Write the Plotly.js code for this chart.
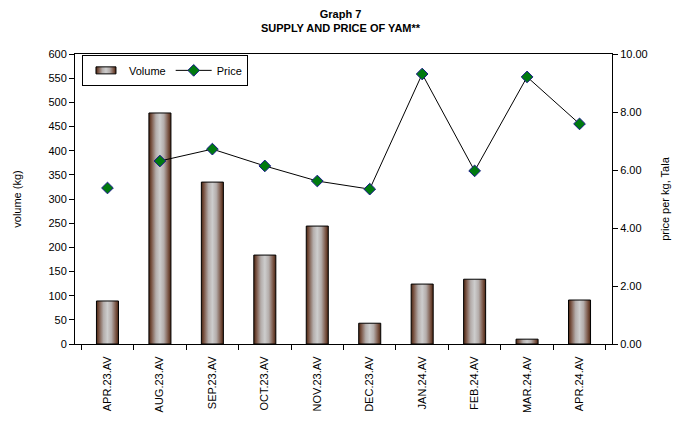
<!DOCTYPE html>
<html>
<head>
<meta charset="utf-8">
<script src="https://cdn.plot.ly/plotly-3.0.1.min.js"></script>
<style>
html,body{margin:0;padding:0;background:#fff;}
#chart{width:681px;height:425px;}
</style>
</head>
<body>
<div id="chart"></div>
<script>
const categories = ["APR.23.AV","AUG.23.AV","SEP.23.AV","OCT.23.AV","NOV.23.AV","DEC.23.AV","JAN.24.AV","FEB.24.AV","MAR.24.AV","APR.24.AV"];
const volume = [89, 478, 335, 184, 244, 43, 124, 134, 10, 91];
const price = [5.38, 6.31, 6.72, 6.14, 5.62, 5.34, 9.31, 5.97, 9.21, 7.59];
const volumeTicks = [0,50,100,150,200,250,300,350,400,450,500,550,600];
const priceTicks = [0,2,4,6,8,10];

const FONT = "Liberation Sans, Arial, sans-serif";
const markerStyle = {symbol:"diamond", size:9, color:"#007a10", line:{color:"#1a1a8c", width:1}};

const data = [
  {type:"bar", name:"Volume", x:categories, y:volume, yaxis:"y",
   marker:{color:"#b0a8a6", line:{color:"#000", width:1}}, width:0.42},
  {type:"scatter", mode:"lines+markers", name:"Price", x:categories.slice(1), y:price.slice(1), yaxis:"y2",
   line:{color:"#000", width:1}, marker:markerStyle},
  {type:"scatter", mode:"markers", name:"Price", x:categories.slice(0,1), y:price.slice(0,1), yaxis:"y2",
   marker:markerStyle, showlegend:false}
];

const layout = {
  width:681, height:425,
  margin:{l:75, r:69, t:54, b:81},
  paper_bgcolor:"#fff", plot_bgcolor:"#fff",
  font:{family:FONT, size:11, color:"#000"},
  title:{text:"<b>Graph 7</b><br><b>SUPPLY AND PRICE OF YAM**</b>", x:0.5, xanchor:"center", y:0.958, yanchor:"top",
         font:{family:FONT, size:11, color:"#000"}},
  showlegend:true,
  legend:{orientation:"h", x:0.013, y:0.997, xanchor:"left", yanchor:"top",
          bordercolor:"#000", borderwidth:1, bgcolor:"#fff", font:{family:FONT, size:11},
          itemwidth:36, tracegroupgap:0},
  xaxis:{type:"category", categoryarray:categories, tickangle:-90, showline:true, linecolor:"#000", linewidth:1,
         mirror:true, ticks:"outside", tickson:"boundaries", ticklen:5, tickcolor:"#000", ticklabelstandoff:7,
         showgrid:false, zeroline:false, automargin:false, tickfont:{family:FONT, size:11}},
  yaxis:{range:[0,600], tickvals:volumeTicks, ticktext:volumeTicks.map(String), showline:true, linecolor:"#000",
         ticks:"outside", ticklen:5, tickcolor:"#000", showgrid:false, zeroline:false, automargin:false,
         title:{text:"volume (kg)", font:{family:FONT, size:11}, standoff:24}, tickfont:{family:FONT, size:11}},
  yaxis2:{range:[0,10], overlaying:"y", side:"right", tickvals:priceTicks, ticktext:priceTicks.map(v=>v.toFixed(2)),
          showline:true, linecolor:"#000", ticks:"outside", ticklen:5, tickcolor:"#000", showgrid:false, zeroline:false,
          automargin:false,
          title:{text:"price per kg, Tala", font:{family:FONT, size:11}, standoff:14}, tickfont:{family:FONT, size:11}},
  bargap:0.58
};

Plotly.newPlot("chart", data, layout, {staticPlot:true, displayModeBar:false}).then(gd => {
  const ns = "http://www.w3.org/2000/svg";
  const svg = gd.querySelector(".main-svg");
  let defs = svg.querySelector("defs");
  if (!defs) { defs = document.createElementNS(ns, "defs"); svg.insertBefore(defs, svg.firstChild); }
  const grad = document.createElementNS(ns, "linearGradient");
  grad.setAttribute("id", "barGrad");
  grad.setAttribute("x1", "0"); grad.setAttribute("x2", "1");
  grad.setAttribute("y1", "0"); grad.setAttribute("y2", "0");
  [[0,"#4a2410"],[0.12,"#7a5545"],[0.32,"#b4adab"],[0.5,"#cdcdcd"],[0.68,"#b4adab"],[0.88,"#7a5545"],[1,"#4a2410"]]
    .forEach(([o,c]) => {
      const s = document.createElementNS(ns, "stop");
      s.setAttribute("offset", o); s.setAttribute("stop-color", c);
      grad.appendChild(s);
    });
  defs.appendChild(grad);
  gd.querySelectorAll(".barlayer .point path").forEach(p => { p.style.fill = "url(#barGrad)"; });
  const legTraces = gd.querySelectorAll(".legend .traces");
  if (legTraces.length) legTraces[0].querySelectorAll(".legendpoints path").forEach(p => {
    p.style.fill = "url(#barGrad)";
    p.setAttribute("d", "M10,3.5H-10V-3.5H10Z");
  });
});
</script>
</body>
</html>
